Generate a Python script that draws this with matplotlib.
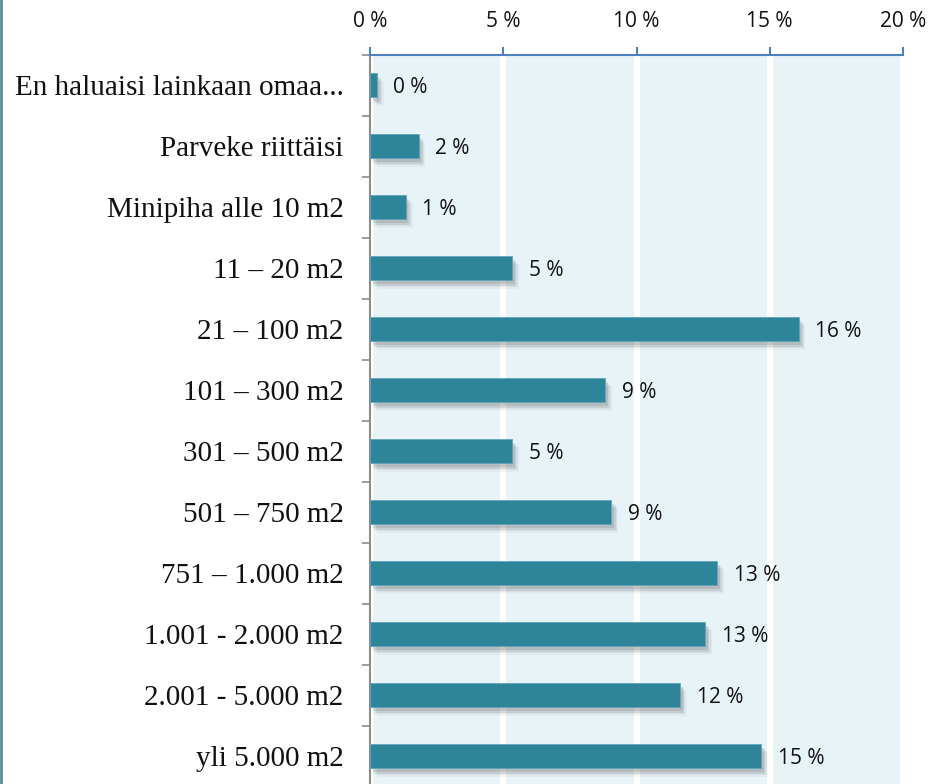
import matplotlib
matplotlib.use("Agg")
import matplotlib.pyplot as plt
import matplotlib.patheffects as pe
from matplotlib.lines import Line2D

categories = ["En haluaisi lainkaan omaa...", "Parveke riittäisi", "Minipiha alle 10 m2",
              "11 – 20 m2", "21 – 100 m2", "101 – 300 m2", "301 – 500 m2",
              "501 – 750 m2", "751 – 1.000 m2", "1.001 - 2.000 m2",
              "2.001 - 5.000 m2", "yli 5.000 m2"]
values = [0.25, 1.82, 1.34, 5.33, 16.08, 8.82, 5.33, 9.06, 13.03, 12.57, 11.63, 14.67]
value_labels = ["0 %", "2 %", "1 %", "5 %", "16 %", "9 %", "5 %", "9 %", "13 %", "13 %", "12 %", "15 %"]
xticks = [0, 5, 10, 15, 20]
xtick_labels = ["0 %", "5 %", "10 %", "15 %", "20 %"]

W, H = 948, 784
fig = plt.figure(figsize=(W / 100, H / 100), dpi=100)
left, right, top = 370, 903, 54.5
n = len(categories)
step = 61
bottom = top + n * step
ax = fig.add_axes([left / W, 1 - bottom / H, (right - left) / W, (bottom - top) / H])
ax.set_facecolor("#E8F3F8")

ypos = list(range(n))
shadow = [pe.SimplePatchShadow(offset=(2, -3), shadow_rgbFace="#555555", alpha=0.14),
          pe.SimplePatchShadow(offset=(3, -4), shadow_rgbFace="#555555", alpha=0.12),
          pe.SimplePatchShadow(offset=(4, -5), shadow_rgbFace="#555555", alpha=0.08),
          pe.SimplePatchShadow(offset=(5, -6), shadow_rgbFace="#555555", alpha=0.05),
          pe.Normal()]
bars = ax.barh(ypos, values, height=0.4, color="#2E8499", edgecolor="#5FA6B8",
               linewidth=0.6, zorder=3)
for b in bars:
    b.set_path_effects(shadow)

for y, v, lab in zip(ypos, values, value_labels):
    ax.annotate(lab, xy=(v, y), xytext=(12, -2), textcoords="offset points",
                va="center", ha="left", fontsize=15, family="Open Sans",
                color="#111111", zorder=4)

ax.set_xlim(0, 20)
ax.set_ylim(n - 0.5, -0.5)
ax.xaxis.tick_top()
ax.set_xticks(xticks)
ax.set_xticklabels(xtick_labels, fontsize=15, family="Open Sans", color="#111111")
ax.tick_params(axis="x", direction="out", length=6, width=1.5, color="#4F81BD", pad=10)
ax.grid(axis="x", color="white", linewidth=4.5, zorder=1)
ax.set_axisbelow(True)

ax.set_yticks(ypos)
ax.set_yticklabels(categories, fontsize=21, family="Liberation Serif", color="#111111")
ax.tick_params(axis="y", length=0, pad=19)
ax.set_yticks([i - 0.5 for i in range(n + 1)], minor=True)
ax.tick_params(axis="y", which="minor", direction="out", length=6, width=1.2, color="#8C8C8C")

for s in ["right", "bottom"]:
    ax.spines[s].set_visible(False)
ax.spines["top"].set_color("#4F81BD")
ax.spines["top"].set_linewidth(1.5)
ax.spines["left"].set_color("#8C8C8C")
ax.spines["left"].set_linewidth(1.5)

fig.add_artist(Line2D([1 / W, 1 / W], [0, 1], transform=fig.transFigure,
                      color="#5B8C9C", linewidth=2))

fig.savefig("out.png", dpi=100)
